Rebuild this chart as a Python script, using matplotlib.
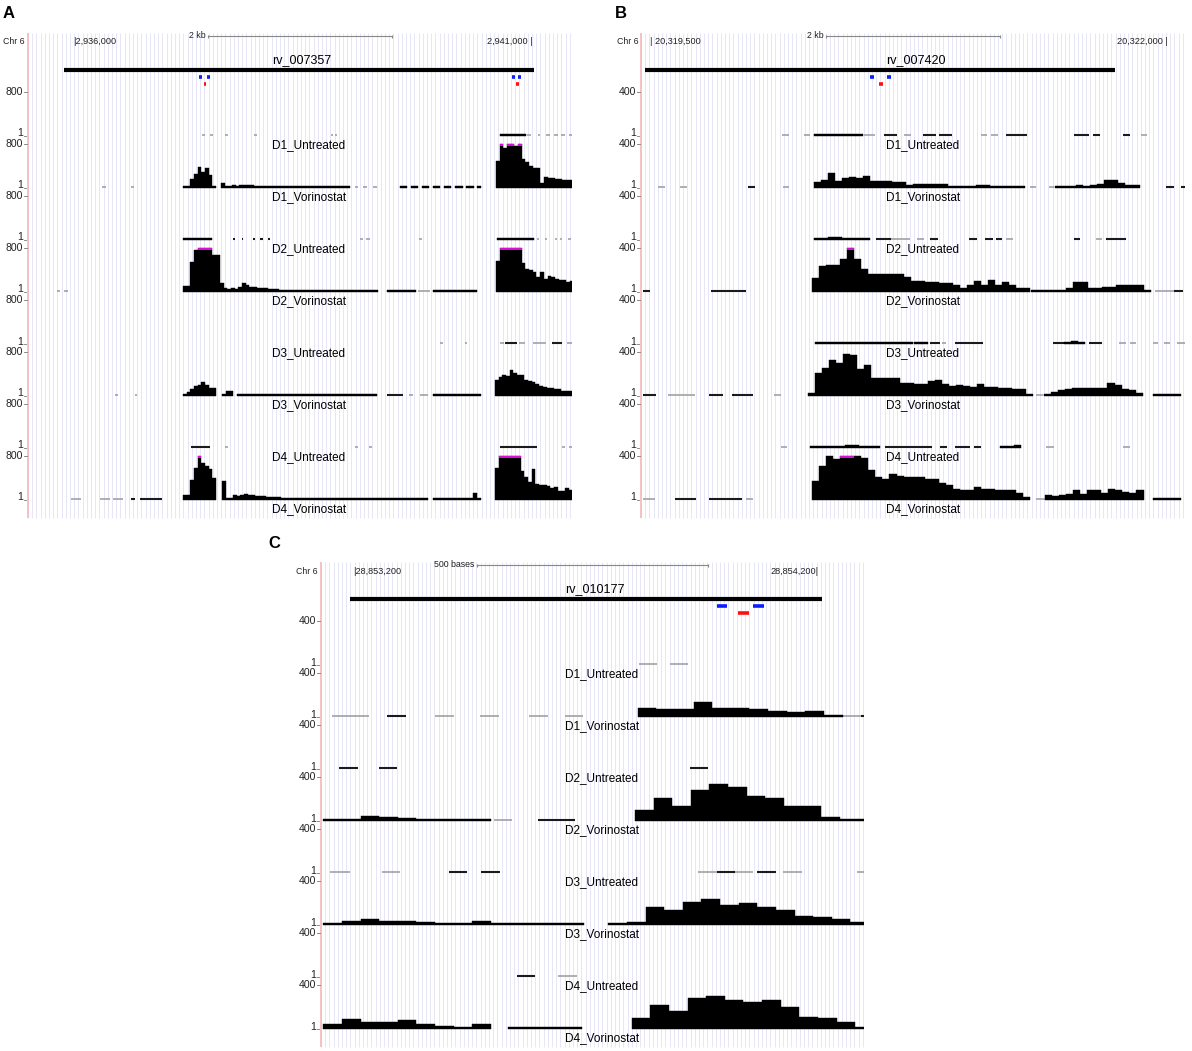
import matplotlib
matplotlib.use("Agg")
import numpy as np
import matplotlib.pyplot as plt
from matplotlib.lines import Line2D

W, H = 1192, 1051
plt.rcParams['font.family'] = ['Liberation Sans', 'DejaVu Sans']

TRACK_NAMES = ["D1_Untreated", "D1_Vorinostat", "D2_Untreated", "D2_Vorinostat",
               "D3_Untreated", "D3_Vorinostat", "D4_Untreated", "D4_Vorinostat"]

# Track entries: (start, [bin values]) = coverage run, (start, end, level) = thin low-coverage dash
# level 1 = light grey dash, level 2 = dark dash

# ---------------- panel A: chr6, kb from 2,936,000, bins of 40 bp, scale 1-800
A_D1U = [(1.40, 1.43, 1), (1.49, 1.52, 1), (1.65, 1.68, 1), (1.97, 2.00, 1), (2.80, 2.83, 1), (2.85, 2.87, 1),
         (4.64, [16, 20, 32, 24, 16, 16, 16]),
         (4.94, 4.98, 1), (5.05, 5.08, 1), (5.14, 5.18, 1), (5.23, 5.27, 1), (5.30, 5.35, 1), (5.39, 5.43, 1)]
A_D1V = [(0.31, 0.36, 1), (0.63, 0.66, 1),
         (1.196, [30, 40, 160, 260, 380, 300, 360, 230, 20]),
         (1.609, [100, 30, 30, 50, 45, 48, 52, 56, 48, 44, 40, 36, 36, 32, 28, 24, 24, 24, 20, 16, 16, 16,
                  16, 16, 14, 12, 12, 14, 16, 16, 16, 20, 30, 28, 20]),
         (3.07, 3.10, 1), (3.15, 3.20, 1), (3.26, 3.30, 1),
         (3.554, [10, 10, 0, 10, 10, 0, 10, 12, 0, 10, 10, 0, 12, 14, 0, 14, 16, 0, 20, 20, 0, 24]),
         (4.598, [490, 850, 720, 850, 900, 760, 850, 520, 480, 400, 370, 360, 100, 200, 190, 180, 170, 160,
                  150, 150, 140])]
A_D2U = [(1.196, [16, 16, 16, 20, 20, 20, 16, 16]),
         (1.74, 1.76, 2), (1.84, 1.85, 2), (1.96, 1.98, 2), (2.03, 2.07, 2), (2.12, 2.14, 2),
         (3.12, 3.15, 1), (3.19, 3.23, 1), (3.76, 3.79, 1),
         (4.61, [16, 16, 24, 24, 20, 24, 20, 16, 16, 16]),
         (5.04, 5.07, 1), (5.13, 5.15, 1), (5.24, 5.26, 1), (5.29, 5.31, 1), (5.38, 5.41, 1)]
A_D2V = [(-0.17, -0.14, 1), (-0.10, -0.05, 1),
         (1.196, [110, 110, 540, 760, 900, 900, 900, 900, 680, 680, 160, 80, 50, 80, 60, 90, 160, 120, 100, 90,
                  80, 70, 70, 60, 60, 50, 40, 40, 30, 30, 25, 25, 20, 20, 20, 20, 25, 30, 30, 40, 30, 25, 20, 20,
                  20, 20, 25, 30, 30, 30, 25, 20, 15]),
         (3.413, [8, 10, 12, 10, 8, 10, 8, 8]),
         (3.75, 3.88, 1),
         (3.913, [8, 10, 8, 10, 12, 15, 20, 25, 20, 40, 30, 20]),
         (4.598, [560, 900, 900, 900, 900, 900, 900, 520, 420, 400, 360, 280, 360, 240, 300, 280, 240, 220,
                  215, 175, 200])]
A_D3U = [(3.99, 4.02, 1), (4.26, 4.28, 1), (4.64, 4.68, 1), (4.70, 4.83, 2), (4.85, 4.91, 1),
         (5.00, 5.14, 1), (5.21, 5.32, 2), (5.37, 5.43, 1)]
A_D3V = [(0.46, 0.49, 1), (0.67, 0.70, 1),
         (1.196, [8, 80, 136, 176, 200, 256, 200, 144, 144]),
         (1.62, [16, 96, 96]),
         (1.783, [16, 20, 16, 16, 12, 16, 20, 16, 12, 12, 16, 20, 20, 16, 12, 12, 16, 12, 12, 16, 16, 12, 12,
                  12, 16, 16, 12, 12, 16, 12, 12, 12, 8, 12, 12, 8, 8, 8]),
         (3.41, 3.59, 2), (3.65, 3.70, 1), (3.77, 3.86, 1),
         (3.913, [8, 8, 12, 12, 12, 16, 12, 16, 20, 16, 16, 24, 32]),
         (4.587, [300, 340, 380, 360, 480, 420, 380, 380, 300, 270, 260, 220, 190, 160, 140, 140, 120, 120,
                  100, 100, 90])]
A_D4U = [(1.28, 1.49, 2), (1.65, 1.69, 1), (3.06, 3.10, 1), (3.22, 3.25, 1), (4.64, 5.04, 2),
         (5.31, 5.35, 1), (5.39, 5.43, 1)]
A_D4V = [(-0.02, 0.09, 1), (0.29, 0.40, 1), (0.43, 0.54, 1), (0.63, 0.67, 2), (0.73, 0.97, 2),
         (1.196, [96, 96, 360, 576, 820, 680, 620, 560, 400]),
         (1.62, [350, 40, 40, 90, 80, 100, 110, 100, 90, 80, 80, 70, 60, 60, 55, 50, 45, 40, 40, 35, 30, 25,
                 20, 25, 20, 20, 25, 20, 15, 15, 20, 15, 15, 12, 12, 15, 20, 15, 12, 10, 10, 12, 10, 10, 12, 10,
                 8, 8, 10, 8, 8, 10, 8, 8, 12, 10]),
         (3.913, [8, 10, 8, 12, 16, 20, 40, 40, 30, 40, 30, 120, 40]),
         (4.587, [584, 900, 900, 900, 900, 900, 900, 536, 416, 328, 560, 296, 280, 264, 248, 224, 240, 168,
                  168, 224, 176])]

# ---------------- panel B: kb from 20,319,500, bins of 34 bp, scale 1-400
B_D1U = [(0.637, 0.671, 1), (0.743, 0.772, 1), (0.792, [8, 8, 12, 16, 16, 12, 8]), (1.033, 1.086, 1),
         (1.129, 1.192, 2), (1.226, 1.260, 1), (1.318, 1.380, 2), (1.395, 1.458, 2), (1.597, 1.626, 1),
         (1.646, 1.680, 1), (1.718, 1.820, 2), (2.046, 2.119, 2), (2.138, 2.172, 2), (2.283, 2.317, 2),
         (2.370, 2.399, 1)]
B_D1V = [(0.039, 0.072, 1), (0.145, 0.179, 1), (0.473, 0.507, 2), (0.642, 0.671, 1),
         (0.792, [52, 76, 132, 64, 88, 104, 88, 108, 64, 60, 60, 52, 52, 28, 40, 40, 32, 32, 32, 16, 16, 12,
                  20, 28, 24, 20, 16, 12, 12, 8]),
         (1.834, 1.863, 1), (1.925, 1.950, 1),
         (1.955, [6, 10, 16, 28, 20, 24, 36, 76, 76, 44, 28, 24]),
         (2.490, 2.529, 2), (2.563, 2.582, 2)]
B_D2U = [(0.792, [8, 8, 24, 24, 20, 16, 16, 16]), (1.091, 1.163, 2), (1.163, 1.255, 1), (1.289, 1.322, 1),
         (1.351, 1.390, 2), (1.540, 1.578, 2), (1.617, 1.655, 2), (1.670, 1.699, 2), (1.718, 1.752, 1),
         (2.046, 2.075, 2), (2.153, 2.181, 1), (2.201, 2.297, 2)]
B_D2V = [(-0.034, 0.0, 2), (0.294, 0.463, 2),
         (0.782, [124, 240, 248, 248, 296, 440, 300, 208, 168, 168, 168, 164, 164, 132, 100, 100, 88, 88, 80,
                  80, 60, 36, 64, 100, 60, 108, 60, 88, 64, 40, 40]),
         (1.84, [8, 8, 8, 8, 12, 36, 88, 88, 36, 40, 44, 44, 64, 64, 64, 64, 8]),
         (2.437, 2.529, 1), (2.529, 2.572, 2)]
B_D3U = [(0.796, [8, 8, 8, 12, 12, 16, 12, 16, 20, 12, 16, 12, 8, 8, 8, 8]), (1.351, 1.400, 2),
         (1.410, 1.429, 1), (1.472, 1.607, 2), (1.945, 1.998, 2), (1.998, [16, 24, 20]), (2.119, 2.181, 2),
         (2.264, 2.297, 1), (2.317, 2.346, 1), (2.428, 2.452, 1), (2.481, 2.510, 1), (2.543, 2.582, 1)]
B_D3V = [(-0.034, 0.029, 2), (0.087, 0.217, 1), (0.285, 0.352, 2), (0.396, 0.497, 2), (0.598, 0.632, 1),
         (0.763, [24, 208, 252, 324, 296, 380, 376, 248, 280, 168, 168, 160, 160, 120, 120, 112, 108, 132,
                  148, 108, 88, 100, 88, 80, 108, 80, 84, 72, 72, 60, 60, 20]),
         (1.863, 1.897, 1),
         (1.902, [16, 40, 52, 60, 72, 72, 72, 72, 72, 120, 96, 60, 52, 28]),
         (2.428, [8, 8, 8, 12])]
B_D4U = [(0.632, 0.661, 1), (0.772, [8, 8, 8, 12, 16, 24, 28, 20, 12, 8]), (1.134, 1.361, 2),
         (1.400, 1.434, 2), (1.472, 1.544, 2), (1.564, 1.598, 2), (1.689, [12, 16, 24]), (1.911, 1.950, 1),
         (2.283, 2.317, 1)]
B_D4V = [(-0.034, 0.024, 1), (0.121, 0.222, 2), (0.285, 0.444, 2), (0.463, 0.497, 1),
         (0.782, [176, 312, 396, 372, 420, 420, 396, 380, 272, 208, 192, 240, 220, 208, 208, 212, 192, 192,
                  152, 132, 104, 88, 88, 120, 96, 96, 88, 88, 88, 60, 28]),
         (1.863, 1.906, 1),
         (1.906, [44, 36, 44, 52, 88, 56, 88, 88, 64, 96, 88, 72, 64, 88]),
         (2.428, [8, 8, 8, 12])]

# ---------------- panel C: bp from 28,853,200, bins of 40 bp, scale 1-400
C_D1U = [(614, 653, 1), (681, 720, 1)]
C_D1V = [(-45, 33, 1), (73, 113, 2), (175, 216, 1), (272, 313, 1), (378, 418, 1), (454, 494, 1),
         (611, [84, 76, 72, 140, 84, 80, 76, 56, 44, 52, 20]), (1051, 1090, 1), (1090, 1097, 2)]
C_D2U = [(-30, 10, 2), (55, 94, 2), (723, 762, 2)]
C_D2V = [(-64, [8, 16, 48, 36, 24, 12, 20, 16, 16]), (302, 342, 1), (398, 477, 2),
         (605, [96, 208, 140, 280, 340, 312, 228, 208, 140, 132, 36, 20, 20])]
C_D3U = [(-50, -7, 1), (61, 101, 1), (205, 245, 2), (274, 315, 2), (741, 781, 1), (781, 819, 2),
         (819, 858, 1), (868, 908, 2), (923, 963, 1), (1081, 1097, 1)]
C_D3V = [(-64, [20, 40, 52, 40, 32, 28, 20, 12, 36, 16, 12, 12, 6, 6]),
         (548, [4, 28, 160, 132, 208, 232, 180, 196, 160, 140, 80, 72, 56, 24])]
C_D4U = [(351, 391, 2), (439, 480, 1)]
C_D4V = [(-64, [48, 88, 64, 64, 80, 44, 28, 16, 44]), (332, [8, 20, 16, 8]),
         (598, [100, 220, 160, 280, 300, 268, 248, 264, 196, 112, 96, 60, 12])]

# headers: gene extent, primer (blue) and probe (red) positions
A_GENE, B_GENE, C_GENE = (-0.098, 5.011), (-0.024, 2.244), (-6, 1006)
A_PRIMERS = [(1.375, 1.405), (1.455, 1.485), (4.775, 4.805), (4.835, 4.865)]
A_PROBES = [(1.42, 1.45), (4.815, 4.845)]
B_PRIMERS = [(1.061, 1.081), (1.143, 1.163)]
B_PROBES = [(1.105, 1.125)]
C_PRIMERS = [(781, 803), (858, 882)]
C_PROBES = [(826, 850)]

fig = plt.figure(figsize=(W / 100, H / 100), dpi=100)


def ftext(x, y, s, **kw):
    fig.text(x / W, 1 - y / H, s, **kw)


def fline(x0, x1, y0, y1, **kw):
    fig.add_artist(Line2D([x0 / W, x1 / W], [1 - y0 / H, 1 - y1 / H], transform=fig.transFigure, **kw))


def draw_panel(left, right, yoff, xlim, binw, vmax, tracks, gene, gname, primers, probes,
               ticks, scalebar, letter, letter_x, chr_x):
    top, bottom = 30 + yoff, 520 + yoff
    ax = fig.add_axes([left / W, 1 - bottom / H, (right - left) / W, (bottom - top) / H])
    ax.set_xlim(*xlim)
    ax.set_ylim(bottom, top)
    ax.axis('off')
    xscale = (right - left) / (xlim[1] - xlim[0])

    # browser background guide lines
    gx = np.arange(xlim[0], xlim[1], 4.2 / xscale)
    ax.vlines(gx, 33 + yoff, bottom - 2, color='#e6e6f6', lw=0.7, zorder=0)
    ax.vlines(xlim[0], 33 + yoff, bottom - 2, color='#f5b9b9', lw=1.2, clip_on=False, zorder=1)

    # header
    ftext(letter_x, 14 + yoff, letter, fontsize=12, fontweight='bold', ha='left', va='center')
    ftext(chr_x, 42 + yoff, "Chr 6", fontsize=6.3, ha='left', va='center', color='#222222')
    (t0, lab0), (t1, lab1) = ticks
    ax.text(t0, 42 + yoff, lab0, fontsize=6.6, ha='left', va='center', color='#222222')
    ax.text(t1, 42 + yoff, lab1, fontsize=6.6, ha='right', va='center', color='#222222')
    s0, s1, slab = scalebar
    ax.plot([s0, s1], [36 + yoff, 36 + yoff], color='#888888', lw=0.8)
    ax.vlines([s0, s1], 34.5 + yoff, 37.5 + yoff, color='#888888', lw=0.8)
    ax.text(s0, 35.5 + yoff, slab + " ", fontsize=6.3, ha='right', va='center', color='#222222')
    ax.text(0.449, 60 + yoff, gname, fontsize=9, ha='left', va='center', transform=ax.get_yaxis_transform())
    ax.hlines(70 + yoff, gene[0], gene[1], color='black', lw=3.0)
    for a, b in primers:
        ax.hlines(77 + yoff, a, b, color='#0a1eff', lw=2.6)
    for a, b in probes:
        ax.hlines(84 + yoff, a, b, color='#ff1010', lw=2.6)

    # coverage tracks
    th = 44
    for i, (name, track) in enumerate(zip(TRACK_NAMES, tracks)):
        ttop = 92 + 52 * i + yoff
        base = 136 + 52 * i + yoff
        ftext(left - 5, ttop, str(vmax), fontsize=7.6, ha='right', va='center', color='#222222')
        fline(left - 4.5, left - 1.5, ttop, ttop, color='#777777', lw=0.6)
        ftext(left - 5, base - 2.5, "1", fontsize=7.6, ha='right', va='center', color='#222222')
        fline(left - 4.5, left - 2.5, base, base, color='#777777', lw=0.6)
        ax.text(0.449, base + 9.5, name, fontsize=8.5, ha='left', va='center',
                transform=ax.get_yaxis_transform())
        for item in track:
            if len(item) == 3:
                a, b, lvl = item
                ax.hlines(base - 0.6, a, b, color='#9a9a9a' if lvl == 1 else '#1a1a1a',
                          lw=1.1 if lvl == 1 else 1.5)
                continue
            start, vals = item
            xs, hs = [], []
            for j, v in enumerate(vals):
                if v <= 0:
                    continue
                x0 = start + j * binw
                xs.append(x0)
                hs.append(-max(min(v / vmax, 1.0) * th, 1.8))
                if v > vmax:
                    ax.hlines(ttop + 0.9, x0, x0 + binw, color='#e010e0', lw=1.4, zorder=4)
            ax.bar(xs, hs, width=binw, bottom=base, align='edge', color='black',
                   edgecolor='black', linewidth=0.3, zorder=3)


draw_panel(28, 572, 0, (-0.489, 5.424), 0.04, 800,
           [A_D1U, A_D1V, A_D2U, A_D2V, A_D3U, A_D3V, A_D4U, A_D4V],
           A_GENE, "rv_007357", A_PRIMERS, A_PROBES,
           [(0.0, "|2,936,000"), (5.0, "2,941,000 |")], (1.467, 3.467, "2 kb"), "A", 3, 3)
draw_panel(641, 1186, 0, (-0.043, 2.587), 0.034, 400,
           [B_D1U, B_D1V, B_D2U, B_D2V, B_D3U, B_D3V, B_D4U, B_D4V],
           B_GENE, "rv_007420", B_PRIMERS, B_PROBES,
           [(0.0, "| 20,319,500"), (2.5, "20,322,000 |")], (0.849, 1.689, "2 kb"), "B", 615, 617)
draw_panel(321, 864, 529, (-69, 1097), 40, 400,
           [C_D1U, C_D1V, C_D2U, C_D2V, C_D3U, C_D3V, C_D4U, C_D4V],
           C_GENE, "rv_010177", C_PRIMERS, C_PROBES,
           [(0, "|28,853,200"), (1000, "28,854,200|")], (266, 762, "500 bases"), "C", 268, 296)

fig.savefig("out.png", dpi=100)
